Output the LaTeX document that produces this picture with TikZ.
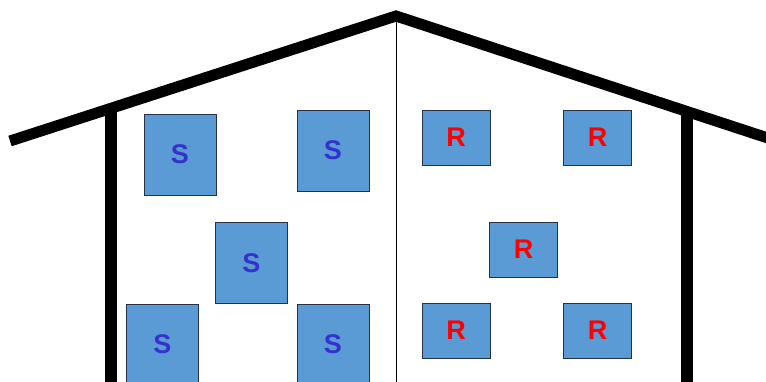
\documentclass[tikz,border=0pt]{standalone}
\usepackage{fontspec}
\setmainfont{Liberation Sans}
\usepackage{tikz}
\usetikzlibrary{positioning}
\definecolor{boxfill}{RGB}{91,155,213}
\definecolor{boxline}{RGB}{40,50,70}
\definecolor{sblue}{RGB}{51,51,204}
\definecolor{rred}{RGB}{255,0,0}

\begin{document}
\begin{tikzpicture}[x=1pt,y=-1pt,font=\fontsize{27}{27}\selectfont\bfseries,
  room/.style={fill=boxfill,draw=boxline,line width=0.8pt,inner sep=0pt},
  sbox/.style={room,minimum width=72pt,minimum height=81pt,text=sblue},
  rbox/.style={room,minimum width=68pt,minimum height=55pt,text=rred}]
\useasboundingbox (0,0) rectangle (766,381);
\clip (0,0) rectangle (766,381);
% Roof and walls
\draw[line width=11pt,miter limit=20] (10,141) -- (396,16) -- (780,142);
\draw[line width=12pt] (110.5,108) -- (110.5,390);
\draw[line width=12pt] (687,111) -- (687,390);
% Middle divide
\draw[line width=0.9pt] (396,17) -- (396,390);
% S rooms
\node[sbox] (s1) at (180,154.5) {S};
\node[sbox] (s2) at (333,150.5) {S};
\node[sbox] (s3) at (251.5,263) {S};
\node[sbox] (s4) at (162.5,344.5) {S};
\node[sbox] (s5) at (333,344.5) {S};
% R rooms
\node[rbox] (r1) at (456,137.5) {R};
\node[rbox] (r2) at (597.5,137.5) {R};
\node[rbox] (r3) at (523.5,249.5) {R};
\node[rbox] (r4) at (456,330.5) {R};
\node[rbox] (r5) at (597.5,330.5) {R};
\end{tikzpicture}
\end{document}
